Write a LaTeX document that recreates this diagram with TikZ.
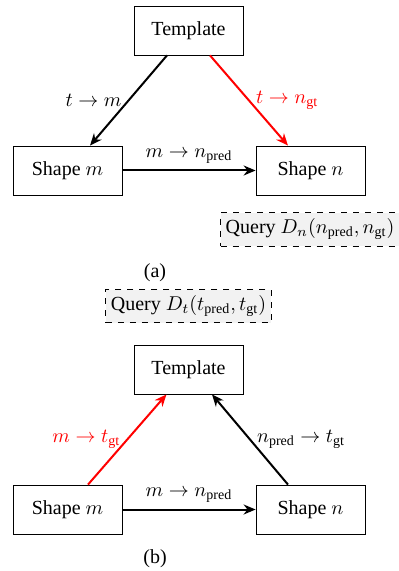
\documentclass[tikz,border=0pt]{standalone}
\usepackage{amsmath}
\usepackage{fontspec}
\setmainfont{Liberation Serif}
\usepackage{tikz}
\usetikzlibrary{arrows.meta, positioning}

\begin{document}
\begin{tikzpicture}[
    x=0.5pt, y=-0.5pt,
    box/.style={rectangle, draw, minimum width=54.5pt, minimum height=24.5pt,
                inner sep=2pt, font=\normalsize},
    query/.style={rectangle, draw, dashed, fill=gray!10, minimum height=16.5pt,
                  inner sep=2.5pt, line width=0.5pt},
    flow/.style={-{Stealth[length=6pt, width=5pt]}, line width=1pt},
    lbl/.style={font=\normalsize, inner sep=3pt}
  ]
    \useasboundingbox (0,0) rectangle (399,571);

    % (a) forward
    \node[box] (ta) at (188.5, 30.5) {Template};
    \node[box] (ma) at (67.5, 170.5) {Shape $m$};
    \node[box] (na) at (310.5, 170.5) {Shape $n$};
    \draw[flow] ([xshift=-10.75pt]ta.south) -- node[lbl, left] {$t \rightarrow m$} ([xshift=11.25pt]ma.north);
    \draw[flow, red] ([xshift=10.75pt]ta.south) -- node[lbl, right] {$t \rightarrow n_{\text{gt}}$} ([xshift=-11.25pt]na.north);
    \draw[flow] (ma) -- node[lbl, above] {$m \rightarrow n_{\text{pred}}$} (na);
    \node[query] (qa) at (310, 229.5) {Query $D_n(n_{\text{pred}}, n_{\text{gt}})$};
    \node (capa) at (155, 273) {(a)};

    % (b) backward
    \node[query] (qb) at (188.5, 306) {Query $D_t(t_{\text{pred}}, t_{\text{gt}})$};
    \node[box] (tb) at (188.5, 369.5) {Template};
    \node[box] (mb) at (67.5, 509.5) {Shape $m$};
    \node[box] (nb) at (310.5, 509.5) {Shape $n$};
    \draw[flow, red] ([xshift=10.25pt]mb.north) -- node[lbl, left] {$m \rightarrow t_{\text{gt}}$} ([xshift=-11pt]tb.south);
    \draw[flow] ([xshift=-11.25pt]nb.north) -- node[lbl, right] {$n_{\text{pred}} \rightarrow t_{\text{gt}}$} ([xshift=11.75pt]tb.south);
    \draw[flow] (mb) -- node[lbl, above] {$m \rightarrow n_{\text{pred}}$} (nb);
    \node (capb) at (155, 559) {(b)};
\end{tikzpicture}
\end{document}
